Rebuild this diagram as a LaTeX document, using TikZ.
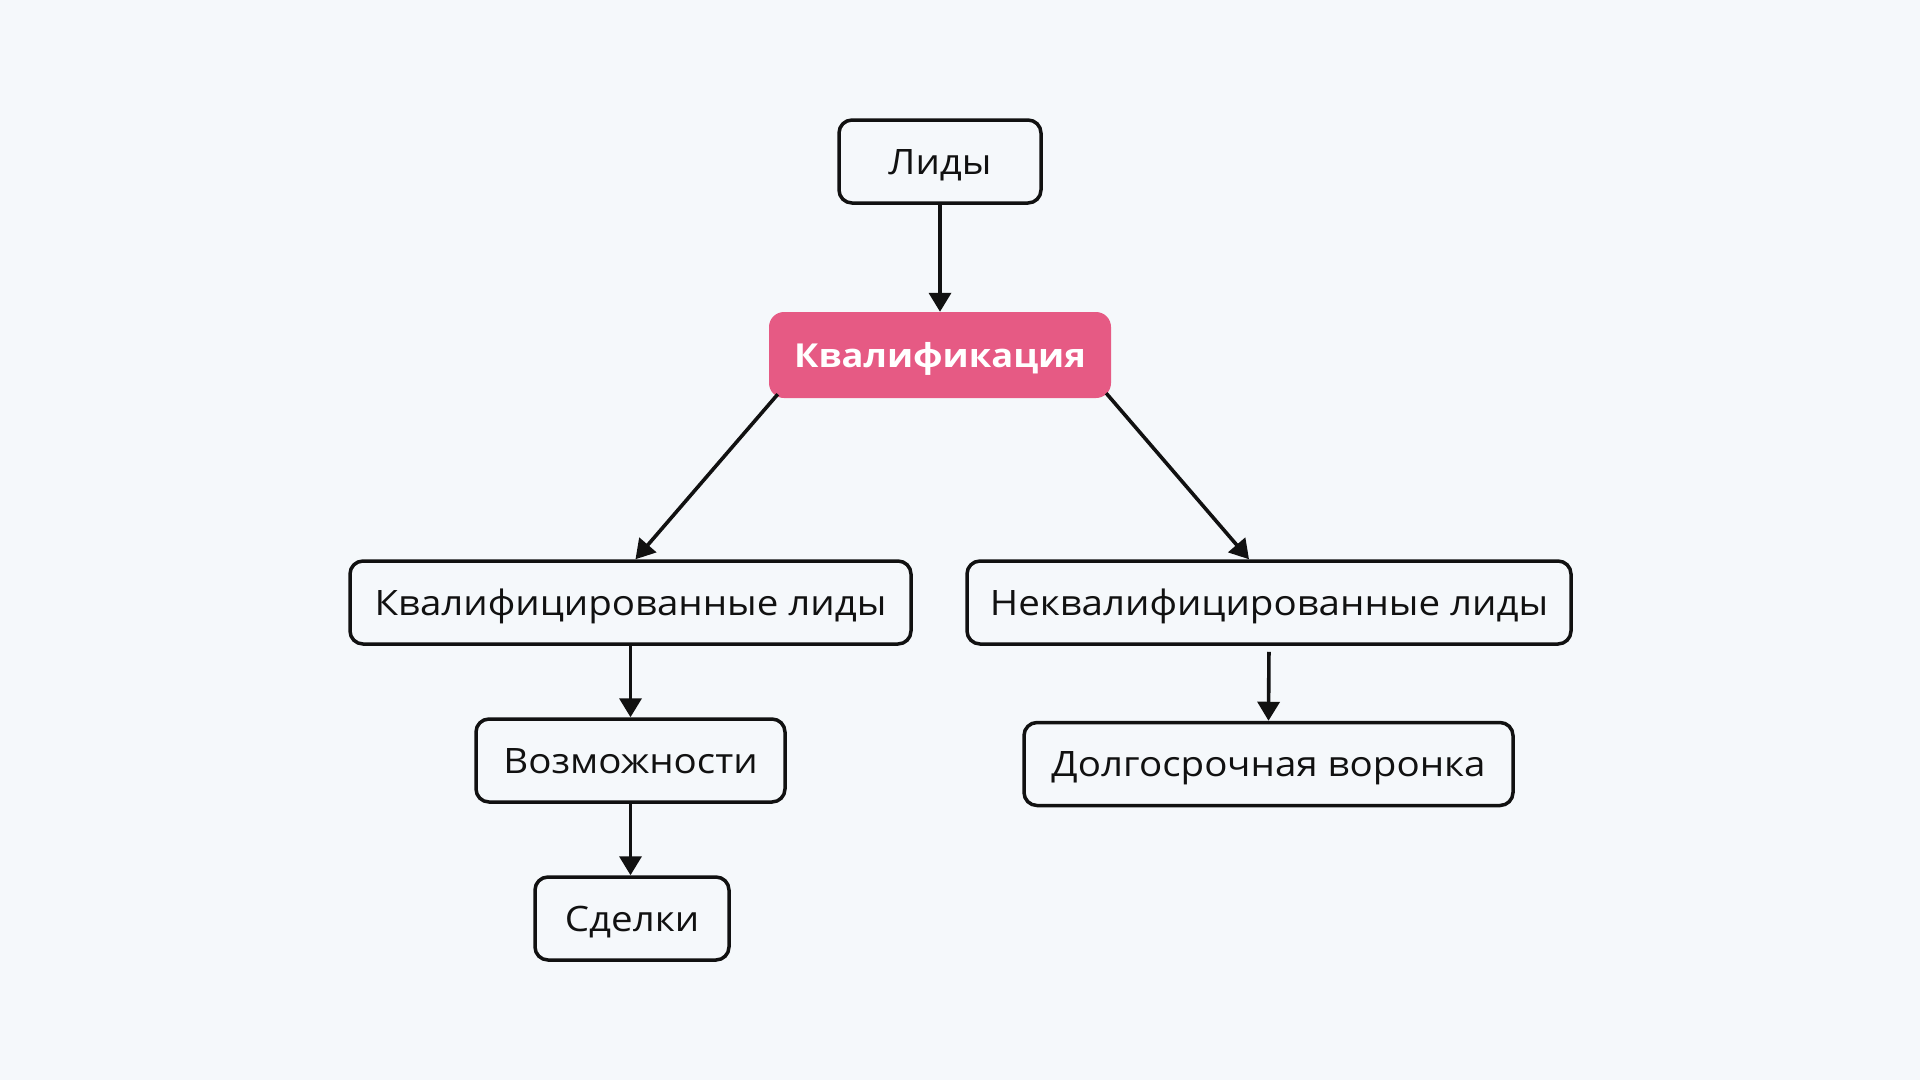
\documentclass[tikz,border=0pt]{standalone}
\usepackage{fontspec}
\setmainfont[FakeStretch=1.1]{Open Sans}
\usetikzlibrary{arrows.meta}
\definecolor{bg}{HTML}{F5F8FB}
\definecolor{pink}{HTML}{E65A84}
\definecolor{ink}{HTML}{111111}
\tikzset{
  box/.style={draw=ink, line width=3.5pt, rounded corners=13pt, fill=bg, inner sep=0pt,
    minimum height=83pt, text=ink, font=\fontsize{35}{40}\selectfont,
    text height=25pt, text depth=0pt},
  hot/.style={fill=pink, rounded corners=15pt, inner sep=0pt, minimum height=86pt,
    minimum width=342pt, text=white, font=\fontsize{33}{38}\selectfont\bfseries,
    text height=24pt, text depth=0pt},
  arr/.style={draw=ink, line width=3.6pt, -{Triangle[length=19pt,width=22pt]}}
}
\begin{document}
\begin{tikzpicture}[x=1pt,y=-1pt]
\fill[bg] (0,0) rectangle (1920,1080);
\node[box, minimum width=202pt] (lid) at (940,161.5) {Лиды};
\node[hot] (kv) at (940,355) {Квалификация};
\node[box, minimum width=561pt] (ql) at (630.5,602.5) {Квалифицированные лиды};
\node[box, minimum width=604pt] (nq) at (1269,602.5) {Неквалифицированные лиды};
\node[box, minimum width=309pt] (voz) at (630.5,760.5) {Возможности};
\node[box, minimum width=489pt] (dol) at (1268.5,764) {Долгосрочная воронка};
\node[box, minimum width=194pt] (sd) at (632,918.5) {Сделки};
\draw[arr] (lid.south) -- (kv.north);
\draw[arr] ([xshift=9pt,yshift=4pt]kv.south west) -- ([xshift=5pt]ql.north);
\draw[arr] ([xshift=-5pt,yshift=5pt]kv.south east) -- ([xshift=-20pt]nq.north);
\draw[arr] (ql.south) -- (voz.north);
\draw[arr, shorten <=6pt] (nq.south) -- (dol.north);
\draw[arr] (voz.south) -- ([xshift=-1.5pt]sd.north);
\end{tikzpicture}
\end{document}
